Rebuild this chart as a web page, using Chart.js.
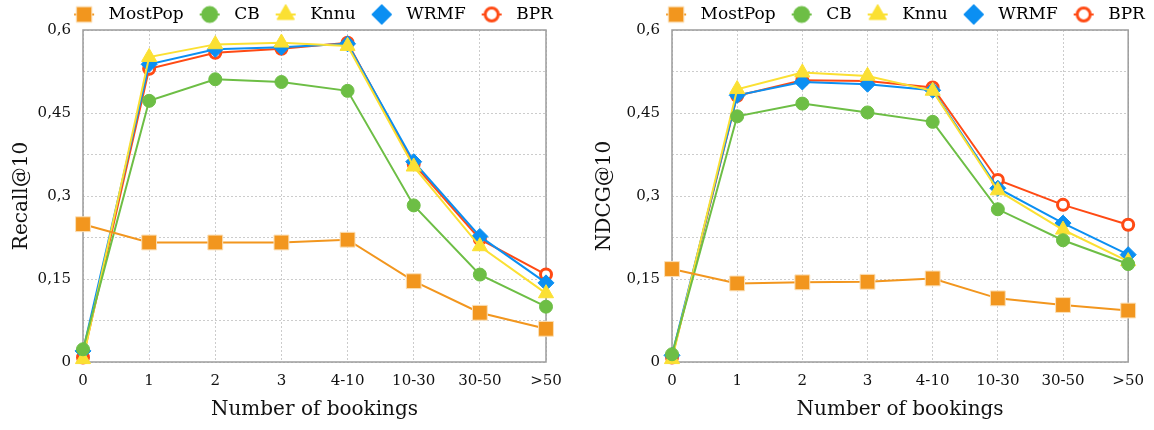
<!DOCTYPE html>
<html>
<head>
<meta charset="utf-8">
<script src="https://cdn.jsdelivr.net/npm/chart.js@4.4.1/dist/chart.umd.min.js"></script>
<style>
body { margin: 0; background: #fff; }
.fila { display: flex; width: 1154px; height: 430px; }
canvas { display: block; }
</style>
</head>
<body>
<div class="fila">
  <canvas id="recall" width="577" height="430"></canvas>
  <canvas id="ndcg" width="577" height="430"></canvas>
</div>
<script>
const categorias = ['0', '1', '2', '3', '4-10', '10-30', '30-50', '>50']
const metodos = ['MostPop', 'CB', 'Knnu', 'WRMF', 'BPR']
const marcasY = [0, 0.075, 0.15, 0.225, 0.3, 0.375, 0.45, 0.525, 0.6]

// Recall@10
const recallMostPop = [0.249, 0.216, 0.216, 0.216, 0.221, 0.146, 0.089, 0.060]
const recallCB      = [0.023, 0.472, 0.511, 0.506, 0.490, 0.283, 0.158, 0.100]
const recallKnnu    = [0.005, 0.551, 0.574, 0.577, 0.571, 0.353, 0.209, 0.124]
const recallWRMF    = [0.020, 0.538, 0.565, 0.569, 0.575, 0.362, 0.227, 0.143]
const recallBPR     = [0.008, 0.530, 0.559, 0.566, 0.577, 0.358, 0.222, 0.158]

// NDCG@10
const ndcgMostPop = [0.168, 0.142, 0.144, 0.145, 0.151, 0.115, 0.103, 0.093]
const ndcgCB      = [0.014, 0.444, 0.467, 0.451, 0.434, 0.276, 0.220, 0.177]
const ndcgKnnu    = [0.005, 0.493, 0.523, 0.517, 0.490, 0.310, 0.239, 0.182]
const ndcgWRMF    = [0.012, 0.482, 0.506, 0.502, 0.491, 0.314, 0.251, 0.194]
const ndcgBPR     = [0.008, 0.481, 0.509, 0.508, 0.496, 0.329, 0.284, 0.248]

const colores = ['#f2961e', '#6dbe45', '#fbe033', '#0b8ff2', '#ff4a14']
const marcadores = [
    { forma: 'rect', radio: 10.5, leyenda: 11, relleno: '#f2961e', borde: '#fbe0b8', ancho: 1 },
    { forma: 'circle', radio: 6.5, leyenda: 8, relleno: '#6dbe45', borde: '#6dbe45', ancho: 1 },
    { forma: 'triangle', radio: 8.7, leyenda: 10, relleno: '#fbe033', borde: '#fbe033', ancho: 1 },
    { forma: 'rectRot', radio: 8, leyenda: 10, relleno: '#0b8ff2', borde: '#0b8ff2', ancho: 1 },
    { forma: 'circle', radio: 5.5, leyenda: 6.5, relleno: '#ffffff', borde: '#ff4a14', ancho: 3 }
]

Chart.defaults.font.family = '"DejaVu Serif", serif'
Chart.defaults.color = '#111'

// icono de la leyenda: tramo de linea con el marcador encima
function icono(i) {
    const c = document.createElement('canvas')
    c.width = 32
    c.height = 22
    const ctx = c.getContext('2d')
    ctx.strokeStyle = colores[i]
    ctx.lineWidth = 2
    ctx.beginPath()
    ctx.moveTo(6, 11)
    ctx.lineTo(26, 11)
    ctx.stroke()
    const m = marcadores[i]
    ctx.fillStyle = m.relleno
    ctx.strokeStyle = m.borde
    ctx.lineWidth = m.ancho
    Chart.helpers.drawPoint(ctx, { pointStyle: m.forma, radius: m.leyenda, rotation: 0, borderWidth: m.ancho }, 16, 11)
    return c
}

const marco = {
    id: 'marco',
    beforeDatasetsDraw(chart) {
        const { ctx, chartArea: a } = chart
        ctx.save()
        ctx.strokeStyle = '#9c9c9c'
        ctx.lineWidth = 1.5
        ctx.strokeRect(a.left, a.top, a.right - a.left, a.bottom - a.top)
        ctx.restore()
    }
}

function formatear(v) {
    return String(Math.round(v * 100) / 100).replace('.', ',')
}

function dibujar(id, tituloY, series, ajuste) {
    const iconos = metodos.map((m, i) => icono(i))
    // la leyenda va centrada sobre el area del grafico, no sobre el lienzo
    const moverLeyenda = {
        id: 'moverLeyenda',
        afterLayout(chart) {
            const l = chart.legend
            l.left += ajuste.dx
            l.right += ajuste.dx
            l.top += 3
            l.bottom += 3
        }
    }
    new Chart(document.getElementById(id), {
        type: 'line',
        data: {
            labels: categorias,
            datasets: metodos.map((m, i) => ({
                label: m,
                data: series[i],
                borderColor: colores[i],
                backgroundColor: colores[i],
                borderWidth: 2,
                tension: 0,
                clip: false,
                pointStyle: marcadores[i].forma,
                pointRadius: marcadores[i].radio,
                pointBackgroundColor: marcadores[i].relleno,
                pointBorderColor: marcadores[i].borde,
                pointBorderWidth: marcadores[i].ancho
            }))
        },
        options: {
            responsive: false,
            animation: false,
            layout: { padding: { left: 0, top: -7, right: 0, bottom: 0 } },
            plugins: {
                tooltip: { enabled: false },
                legend: {
                    labels: {
                        usePointStyle: true,
                        pointStyleWidth: 32,
                        padding: 10,
                        color: '#111',
                        font: { size: 17 },
                        generateLabels: chart => chart.data.datasets.map((ds, i) => ({
                            text: ds.label,
                            pointStyle: iconos[i],
                            datasetIndex: i,
                            fillStyle: colores[i],
                            strokeStyle: colores[i],
                            lineWidth: 0,
                            hidden: false
                        }))
                    }
                }
            },
            scales: {
                x: {
                    grid: { color: '#cccccc', drawTicks: false },
                    border: { display: false, dash: [2, 2] },
                    ticks: { padding: 10, font: { size: 15 }, maxRotation: 0, autoSkip: false },
                    title: { display: true, text: 'Number of bookings', font: { size: 20 }, padding: { top: 0, bottom: 8 } },
                    afterFit: s => { s.height = 68 }
                },
                y: {
                    min: 0,
                    max: 0.6,
                    grid: { color: '#cccccc', drawTicks: false },
                    border: { display: false, dash: [2, 2] },
                    afterBuildTicks: s => { s.ticks = marcasY.map(v => ({ value: v })) },
                    ticks: {
                        padding: 12,
                        font: { size: 15 },
                        autoSkip: false,
                        callback: (v, i) => i % 2 === 0 ? formatear(v) : ''
                    },
                    title: { display: true, text: tituloY, font: { size: 20 }, padding: { top: ajuste.titulo, bottom: 0 } },
                    afterFit: s => { s.width = ajuste.ancho }
                },
                y2: {
                    position: 'right',
                    grid: { display: false },
                    border: { display: false },
                    ticks: { display: false },
                    afterFit: s => { s.width = ajuste.der }
                }
            }
        },
        plugins: [marco, moverLeyenda]
    })
}

dibujar('recall', 'Recall@10',
    [recallMostPop, recallCB, recallKnnu, recallWRMF, recallBPR],
    { ancho: 83, titulo: 10, der: 31, dx: 22 })

dibujar('ndcg', 'NDCG@10',
    [ndcgMostPop, ndcgCB, ndcgKnnu, ndcgWRMF, ndcgBPR],
    { ancho: 95, titulo: 16, der: 20, dx: 37 })
</script>
</body>
</html>
